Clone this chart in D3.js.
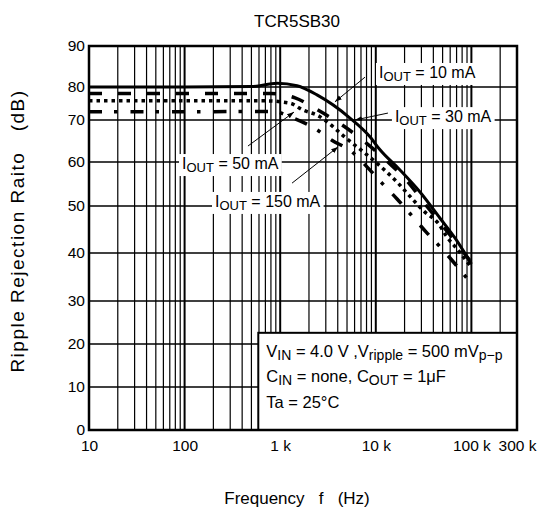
<!DOCTYPE html>
<html>
<head>
<meta charset="utf-8">
<script src="https://cdn.jsdelivr.net/npm/d3@7"></script>
<style>
  body { margin: 0; background: #fff; }
  svg { display: block; font-family: "Liberation Sans", Arial, sans-serif; }
</style>
</head>
<body>
<svg id="chart" width="537" height="522"></svg>
<script>
// ripple rejection vs frequency, one series per output current
const freq10 = [10, 100, 500, 926, 1500, 2427, 5370, 8700, 11070, 17900, 29000, 47000, 67300, 100000];
const rr10 = [80, 80, 80.1, 80.9, 80.3, 77.6, 70.6, 66.0, 62.9, 58.2, 53.2, 47.4, 43.2, 37.7];

const freq30 = [10, 100, 800, 1430, 2480, 4650, 13100, 21200, 33500, 72500, 100000];
const rr30 = [78, 78, 78, 76.7, 73.0, 68.5, 60.2, 55.7, 50.2, 41.7, 38.0];

const freq50 = [10, 100, 700, 1270, 1730, 2420, 5000, 11070, 17100, 21700, 32700, 44700, 55600, 72500, 100000];
const rr50 = [75.8, 75.8, 75.8, 75.1, 73.0, 71.5, 65.5, 59.1, 55.2, 52.7, 48.7, 46.4, 43.4, 40.6, 37.0];

const freq150 = [10, 100, 841, 1360, 2260, 3470, 5640, 8090, 11600, 16700, 23900, 33500, 48100, 69000, 100000];
const rr150 = [72.5, 72.5, 72.6, 70.6, 68.1, 65.2, 62.4, 58.9, 55.2, 51.6, 47.9, 44.5, 41.1, 37.5, 33.6];

const xTickValues = [10, 100, 1000, 10000, 100000, 300000];
const xTickLabels = ["10", "100", "1 k", "10 k", "100 k", "300 k"];
const yTickValues = [0, 10, 20, 30, 40, 50, 60, 70, 80, 90];

// label text anchor [freq, dB] and arrow [from freq, from dB, to freq, to dB]
const currents = ["10", "30", "50", "150"];
const labelAt = [[10800, 82.2], [15850, 69.5], [94, 58.4], [208, 49.8]];
const arrowAt = [[7710, 82.4, 3740, 75.5], [13400, 72.1, 6060, 70.0], [460, 63.8, 1393, 72.4], [1330, 55.2, 4030, 63.6]];

const conditions = [
  [["V", ""], ["IN", "sub"], [" = 4.0 V ,V", ""], ["ripple", "sub"], [" = 500 mV", ""], ["p\u2212p", "sub"]],
  [["C", ""], ["IN", "sub"], [" = none, C", ""], ["OUT", "sub"], [" = 1\u03bcF", ""]],
  [["Ta = 25\u00b0C", ""]]
];

const svg = d3.select("#chart");
const plotLeft = 89, plotRight = 517, plotTop = 46, plotBottom = 430;

const x = d3.scaleLog().domain([10, 300000]).range([plotLeft, plotRight]);
// the scanned original has uneven gridline spacing, follow it piece by piece
const y = d3.scaleLinear().domain(yTickValues)
  .range([plotBottom, 387, 344, 301, 253, 206, 162, 120, 87, plotTop]);

svg.append("rect").attr("width", 537).attr("height", 522).attr("fill", "#fff");

// grid
let vLines = [];
[10, 100, 1000, 10000, 100000].forEach(d => {
  for (let m = 1; m <= 9; m++) {
    if (d * m <= 300000) vLines.push({ f: d * m, major: m === 1 });
  }
});
const grid = svg.append("g");
grid.selectAll("line.v").data(vLines).enter().append("line")
  .attr("x1", d => x(d.f)).attr("x2", d => x(d.f))
  .attr("y1", plotTop).attr("y2", plotBottom)
  .attr("stroke", "#000").attr("stroke-width", d => d.major ? 2 : 1.2);
grid.selectAll("line.h").data(yTickValues.slice(1, -1)).enter().append("line")
  .attr("x1", plotLeft).attr("x2", plotRight)
  .attr("y1", d => y(d)).attr("y2", d => y(d))
  .attr("stroke", "#000").attr("stroke-width", 1.6);

// axes labels
const yAxis = svg.append("g").attr("transform", `translate(${plotLeft},0)`)
  .call(d3.axisLeft(y).tickValues(yTickValues).tickSize(0).tickPadding(4));
yAxis.select(".domain").remove();
yAxis.selectAll("text").attr("font-size", 15.5).attr("font-family", "Liberation Sans, Arial, sans-serif").attr("fill", "#000");

const xAxis = svg.append("g").attr("transform", `translate(0,${plotBottom})`)
  .call(d3.axisBottom(x).tickValues(xTickValues).tickFormat((d, i) => xTickLabels[i]).tickSize(0).tickPadding(10));
xAxis.select(".domain").remove();
xAxis.selectAll("text").attr("font-size", 15.5).attr("font-family", "Liberation Sans, Arial, sans-serif").attr("fill", "#000");

// text with subscripts
function richText(g, parts, size, subSize) {
  const t = g.append("text").attr("font-size", size).attr("fill", "#000");
  let low = false;
  parts.forEach(p => {
    const s = t.append("tspan").text(p[0]);
    if (p[1] === "sub") {
      s.attr("font-size", subSize).attr("dy", low ? 0 : 3);
      low = true;
    } else {
      s.attr("dy", low ? -3 : 0);
      low = false;
    }
  });
  return t;
}

const labels = svg.append("g");
currents.forEach((c, i) => {
  const g = labels.append("g").attr("transform", `translate(${x(labelAt[i][0])},${y(labelAt[i][1])})`);
  const t = richText(g, [["I", ""], ["OUT", "sub"], [" = " + c + " mA", ""]], 16, 13);
  const bb = t.node().getBBox();
  g.insert("rect", "text").attr("x", bb.x - 3).attr("y", bb.y - 1)
    .attr("width", bb.width + 6).attr("height", bb.height + 2).attr("fill", "#fff");
});

// arrows
svg.append("defs").append("marker").attr("id", "head")
  .attr("viewBox", "0 0 10 10").attr("refX", 10).attr("refY", 5)
  .attr("markerWidth", 7).attr("markerHeight", 7).attr("orient", "auto")
  .append("path").attr("d", "M0,1.5L10,5L0,8.5Z").attr("fill", "#000");
svg.append("g").selectAll("line").data(arrowAt).enter().append("line")
  .attr("x1", d => x(d[0])).attr("y1", d => y(d[1]))
  .attr("x2", d => x(d[2])).attr("y2", d => y(d[3]))
  .attr("stroke", "#000").attr("stroke-width", 1)
  .attr("marker-end", "url(#head)");

// conditions box
const boxLeft = x(590), boxTop = y(22.6);
svg.append("rect").attr("x", boxLeft).attr("y", boxTop)
  .attr("width", plotRight - boxLeft).attr("height", plotBottom - boxTop)
  .attr("fill", "#fff").attr("stroke", "#000").attr("stroke-width", 2);
conditions.forEach((row, i) => {
  const g = svg.append("g").attr("transform", `translate(${boxLeft + 8},${boxTop + 24 + i * 25.5})`);
  richText(g, row, 16.5, 14);
});

// curves
const line = d3.line().x(d => x(d[0])).y(d => y(d[1])).curve(d3.curveMonotoneX);
const series = [
  { f: freq10, v: rr10, dash: null, w: 3 },
  { f: freq30, v: rr30, dash: "13,16", w: 3.5 },
  { f: freq50, v: rr50, dash: "3.5,4", w: 3.5 },
  { f: freq150, v: rr150, dash: "13,12,3.5,13", w: 3.5 }
];
svg.append("g").selectAll("path").data(series).enter().append("path")
  .attr("d", s => line(d3.zip(s.f, s.v)))
  .attr("fill", "none").attr("stroke", "#000")
  .attr("stroke-width", s => s.w)
  .attr("stroke-dasharray", s => s.dash);

// frame
svg.append("rect").attr("x", plotLeft).attr("y", plotTop)
  .attr("width", plotRight - plotLeft).attr("height", plotBottom - plotTop)
  .attr("fill", "none").attr("stroke", "#000").attr("stroke-width", 2.5);

// titles
svg.append("text").attr("x", 297).attr("y", 27).attr("text-anchor", "middle")
  .attr("font-size", 17).text("TCR5SB30");
svg.append("text").attr("x", 297).attr("y", 504).attr("text-anchor", "middle")
  .attr("font-size", 17).style("white-space", "pre")
  .text("Frequency   f   (Hz)");
svg.append("text").attr("transform", "translate(24,231) rotate(-90)")
  .attr("text-anchor", "middle").attr("font-size", 19).attr("letter-spacing", 1.5)
  .style("white-space", "pre")
  .text("Ripple Rejection Raito   (dB)");
</script>
</body>
</html>
